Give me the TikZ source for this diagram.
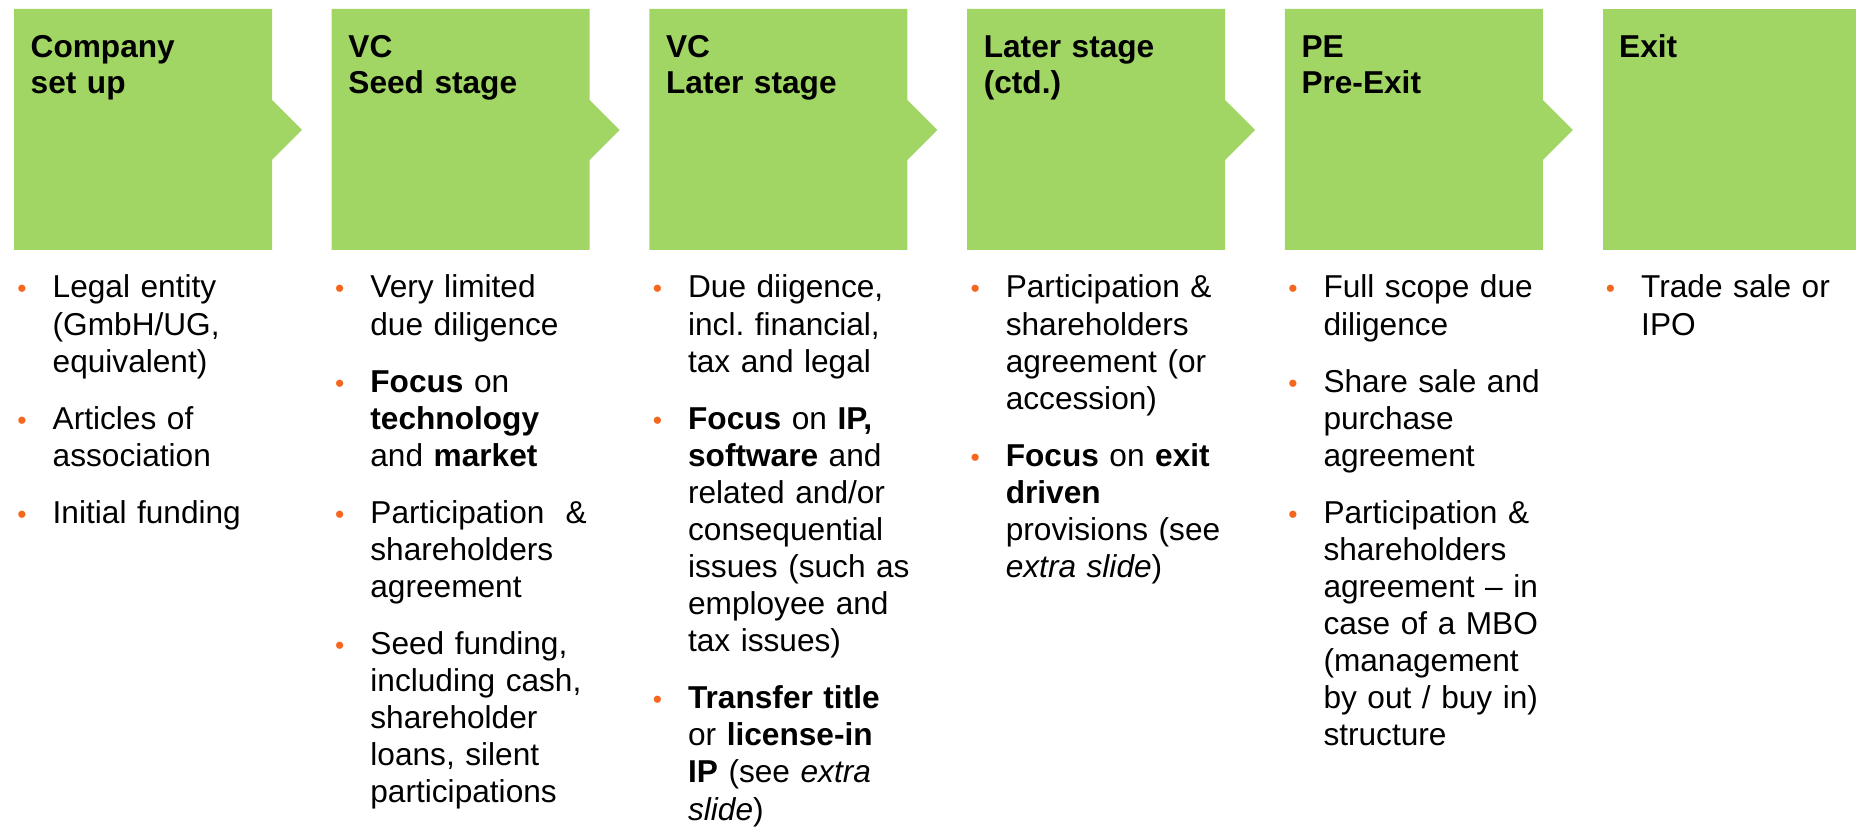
\documentclass[tikz,border=0pt]{standalone}
\usepackage{fontspec}
\setmainfont{Liberation Sans}
\frenchspacing
\definecolor{stagegreen}{HTML}{A1D664}
\definecolor{dotorange}{HTML}{F5661E}
% bullet dot hanging left of the text
\newcommand\Dot{\llap{{\color{dotorange}\fontsize{7.5}{7.5}\selectfont\textbullet}\hspace{2.6mm}}}
\newcommand\NextPt{\par\noindent\Dot}
\newcommand\FirstPt{\noindent\Dot\let\Pt\NextPt}
\tikzset{
    stagetitle/.style={anchor=base west, inner sep=0pt, text width=25mm, align=left,
        font=\fontsize{9}{10.1}\selectfont\bfseries},
    stagepoints/.style={anchor=base west, inner sep=0pt, text width=25mm, align=left,
        font=\fontsize{9}{10.55}\selectfont,
        execute at begin node={\setlength{\parskip}{2.0mm}\let\Pt\FirstPt}},
}
% stage box with its notch, title and points
\newcommand\Stage[4]{%
    \fill[stagegreen] (#2,9) -- ++(258,0) -- ++(0,91) -- ++(30,30) -- ++(-30,30) -- ++(0,90) -- ++(-258,0) -- cycle;
    \node[stagetitle] (#1) at (#2+16,58) {#3};
    \node[stagepoints] (#1-points) at (#2+38,298) {#4};
}

\begin{document}
\begin{tikzpicture}[x=0.1mm,y=-0.1mm]
    \useasboundingbox (0,0) rectangle (1856,831);
    \Stage{setup}{14}{Company\\set up}{%
        \Pt Legal entity\\(GmbH/UG,\\equivalent)
        \Pt Articles of\\association
        \Pt Initial funding}
    \Stage{seed}{331.7}{VC\\Seed stage}{%
        \Pt Very limited\\due diligence
        \Pt \textbf{Focus} on\\\textbf{technology}\\and \textbf{market}
        \Pt Participation~ \&\\shareholders\\agreement
        \Pt Seed funding,\\including cash,\\shareholder\\loans, silent\\participations}
    \Stage{later}{649.4}{VC\\Later stage}{%
        \Pt Due diigence,\\incl. financial,\\tax and legal
        \Pt \textbf{Focus} on \textbf{IP,}\\\textbf{software} and\\related and/or\\consequential\\issues (such as\\employee and\\tax issues)
        \Pt \textbf{Transfer title}\\or \textbf{license-in}\\\textbf{IP} (see \textit{extra}\\\textit{slide})}
    \Stage{ctd}{967.1}{Later stage\\(ctd.)}{%
        \Pt Participation \&\\shareholders\\agreement (or\\accession)
        \Pt \textbf{Focus} on \textbf{exit}\\\textbf{driven}\\provisions (see\\\textit{extra slide})}
    \Stage{pe}{1284.8}{PE\\Pre-Exit}{%
        \Pt Full scope due\\diligence
        \Pt Share sale and\\purchase\\agreement
        \Pt Participation \&\\shareholders\\agreement -- in\\case of a MBO\\(management\\by out / buy in)\\structure}
    % last stage runs off the right edge, no notch
    \fill[stagegreen] (1602.5,9) rectangle (1856,250);
    \node[stagetitle] (exit) at (1618.5,58) {Exit};
    \node[stagepoints] (exit-points) at (1640.5,298) {\Pt Trade sale or\\IPO};
\end{tikzpicture}
\end{document}
